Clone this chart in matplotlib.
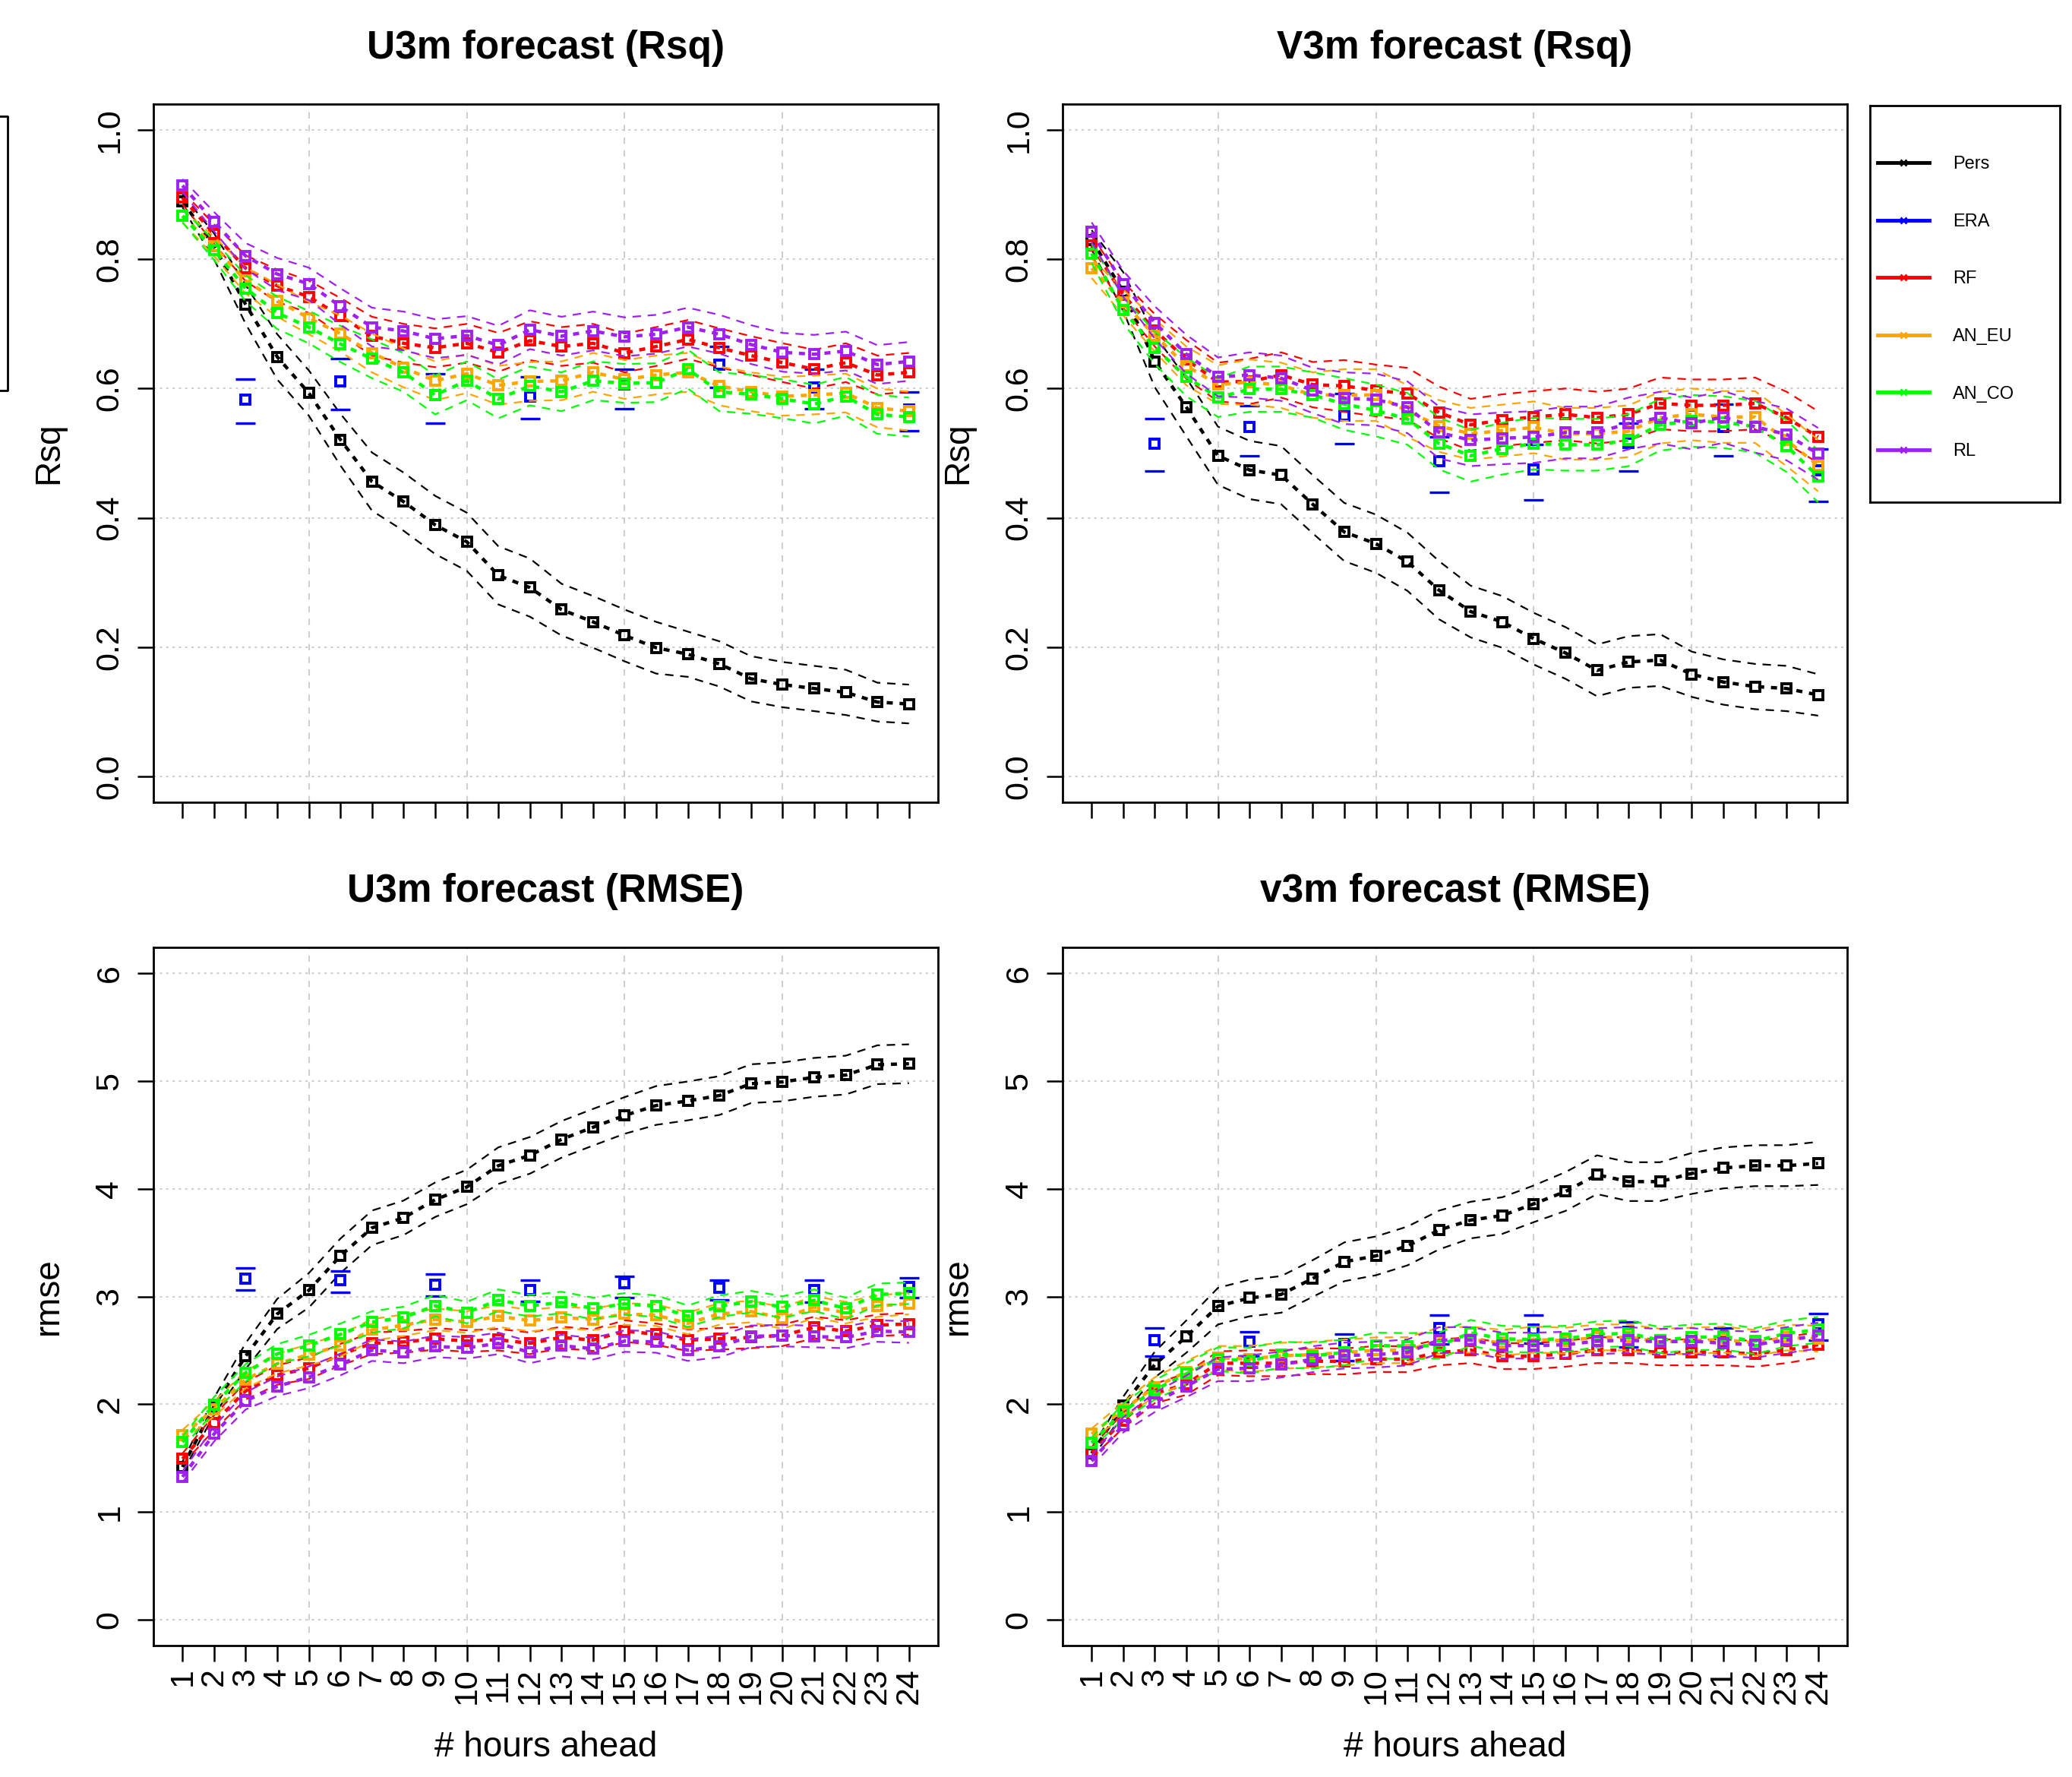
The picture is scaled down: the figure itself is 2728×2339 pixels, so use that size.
import matplotlib
matplotlib.use("Agg")
import matplotlib.pyplot as plt
import numpy as np
from matplotlib.lines import Line2D

plt.rcParams["font.family"] = ["Liberation Sans", "DejaVu Sans"]

HOURS = list(range(1, 25))
ERA_HOURS = [3, 6, 9, 12, 15, 18, 21, 24]
MODELS = ["Pers", "ERA", "RF", "AN_EU", "AN_CO", "RL"]
COLORS = ["black", "#0000ff", "#ff0000", "#ffa500", "#00ff00", "#a020f0"]

# ---- U3m, Rsq
U_RSQ_PERS = [0.89, 0.82, 0.73, 0.649, 0.593, 0.521, 0.456, 0.425, 0.389, 0.363, 0.311, 0.292,
              0.258, 0.239, 0.218, 0.199, 0.189, 0.174, 0.151, 0.142, 0.136, 0.130, 0.115, 0.112]
U_RSQ_PERS_CI = [0.01, 0.02, 0.03, 0.035, 0.035, 0.04, 0.045, 0.045, 0.045, 0.045, 0.045, 0.045,
                 0.04, 0.04, 0.04, 0.04, 0.035, 0.035, 0.035, 0.035, 0.035, 0.035, 0.03, 0.03]
U_RSQ_RF = [0.895, 0.839, 0.786, 0.759, 0.742, 0.712, 0.681, 0.670, 0.663, 0.670, 0.656, 0.674,
            0.665, 0.670, 0.655, 0.665, 0.676, 0.663, 0.651, 0.640, 0.630, 0.640, 0.621, 0.625]
U_RSQ_AN_EU = [0.867, 0.82, 0.767, 0.736, 0.709, 0.685, 0.655, 0.632, 0.612, 0.623, 0.605, 0.611,
               0.612, 0.625, 0.614, 0.621, 0.625, 0.604, 0.595, 0.588, 0.590, 0.593, 0.570, 0.565]
U_RSQ_AN_CO = [0.867, 0.814, 0.755, 0.717, 0.695, 0.669, 0.646, 0.625, 0.590, 0.612, 0.584, 0.604,
               0.595, 0.612, 0.608, 0.609, 0.630, 0.595, 0.591, 0.584, 0.576, 0.588, 0.560, 0.556]
U_RSQ_RL = [0.914, 0.858, 0.805, 0.777, 0.762, 0.727, 0.695, 0.689, 0.677, 0.682, 0.667, 0.691,
            0.681, 0.689, 0.680, 0.684, 0.695, 0.684, 0.668, 0.656, 0.653, 0.658, 0.637, 0.642]
U_RSQ_CI = [0.01, 0.015, 0.02, 0.025, 0.025, 0.028, 0.03, 0.03, 0.03, 0.03, 0.03, 0.03,
            0.03, 0.03, 0.03, 0.03, 0.03, 0.03, 0.03, 0.03, 0.03, 0.03, 0.03, 0.03]
U_RSQ_ERA = [0.583, 0.611, 0.590, 0.588, 0.606, 0.637, 0.602, 0.567]
U_RSQ_ERA_LO = [0.546, 0.567, 0.546, 0.553, 0.569, 0.602, 0.569, 0.535]
U_RSQ_ERA_HI = [0.614, 0.646, 0.623, 0.618, 0.630, 0.665, 0.630, 0.595]

# ---- V3m, Rsq
V_RSQ_PERS = [0.83, 0.75, 0.642, 0.571, 0.496, 0.474, 0.466, 0.421, 0.378, 0.360, 0.332, 0.288,
              0.255, 0.239, 0.213, 0.191, 0.164, 0.177, 0.180, 0.158, 0.146, 0.139, 0.136, 0.126]
V_RSQ_PERS_CI = [0.015, 0.03, 0.04, 0.045, 0.045, 0.045, 0.045, 0.045, 0.045, 0.045, 0.045, 0.045,
                 0.04, 0.04, 0.04, 0.04, 0.04, 0.04, 0.04, 0.035, 0.035, 0.035, 0.035, 0.032]
V_RSQ_RF = [0.821, 0.745, 0.69, 0.645, 0.61, 0.611, 0.621, 0.606, 0.604, 0.597, 0.592, 0.563,
            0.544, 0.551, 0.556, 0.560, 0.555, 0.560, 0.577, 0.574, 0.574, 0.577, 0.555, 0.525]
V_RSQ_AN_EU = [0.786, 0.733, 0.682, 0.635, 0.606, 0.61, 0.605, 0.59, 0.590, 0.590, 0.565, 0.542,
               0.53, 0.535, 0.54, 0.53, 0.53, 0.534, 0.555, 0.56, 0.556, 0.556, 0.52, 0.481]
V_RSQ_AN_CO = [0.809, 0.721, 0.663, 0.618, 0.586, 0.599, 0.599, 0.59, 0.576, 0.566, 0.553, 0.515,
               0.496, 0.507, 0.515, 0.513, 0.513, 0.52, 0.544, 0.55, 0.548, 0.541, 0.511, 0.464]
V_RSQ_RL = [0.842, 0.762, 0.702, 0.653, 0.618, 0.621, 0.616, 0.597, 0.585, 0.583, 0.571, 0.532,
            0.520, 0.523, 0.525, 0.532, 0.532, 0.546, 0.555, 0.546, 0.556, 0.541, 0.529, 0.499]
V_RSQ_CI = [0.015, 0.02, 0.025, 0.03, 0.03, 0.035, 0.035, 0.035, 0.04, 0.04, 0.04, 0.04,
            0.04, 0.04, 0.04, 0.04, 0.04, 0.04, 0.04, 0.04, 0.04, 0.04, 0.04, 0.04]
V_RSQ_ERA = [0.515, 0.540, 0.558, 0.488, 0.475, 0.516, 0.541, 0.473]
V_RSQ_ERA_LO = [0.472, 0.496, 0.515, 0.440, 0.428, 0.472, 0.496, 0.425]
V_RSQ_ERA_HI = [0.553, 0.574, 0.592, 0.525, 0.513, 0.546, 0.576, 0.506]

# ---- U3m, RMSE
U_RMSE_PERS = [1.417, 1.98, 2.447, 2.838, 3.057, 3.377, 3.637, 3.730, 3.898, 4.016, 4.214, 4.310,
               4.458, 4.571, 4.680, 4.773, 4.815, 4.865, 4.975, 4.992, 5.034, 5.055, 5.151, 5.160]
U_RMSE_PERS_CI = [0.05, 0.08, 0.12, 0.14, 0.16, 0.16, 0.16, 0.16, 0.16, 0.16, 0.17, 0.17,
                  0.17, 0.17, 0.17, 0.18, 0.18, 0.18, 0.18, 0.18, 0.18, 0.18, 0.18, 0.18]
U_RMSE_RF = [1.493, 1.829, 2.124, 2.271, 2.334, 2.46, 2.565, 2.578, 2.607, 2.586, 2.599, 2.565,
             2.620, 2.595, 2.679, 2.649, 2.595, 2.607, 2.62, 2.64, 2.712, 2.679, 2.733, 2.746]
U_RMSE_AN_EU = [1.711, 1.955, 2.229, 2.376, 2.46, 2.544, 2.69, 2.733, 2.788, 2.763, 2.817, 2.776,
                2.805, 2.788, 2.838, 2.826, 2.75, 2.838, 2.86, 2.8, 2.902, 2.85, 2.91, 2.935]
U_RMSE_AN_CO = [1.648, 1.997, 2.292, 2.468, 2.544, 2.649, 2.763, 2.805, 2.914, 2.851, 2.965, 2.914,
                2.944, 2.889, 2.931, 2.910, 2.817, 2.91, 2.952, 2.902, 2.965, 2.889, 3.019, 3.03]
U_RMSE_RL = [1.325, 1.724, 2.031, 2.166, 2.25, 2.368, 2.502, 2.481, 2.536, 2.523, 2.565, 2.481,
             2.544, 2.515, 2.586, 2.578, 2.502, 2.536, 2.63, 2.637, 2.628, 2.62, 2.679, 2.67]
U_RMSE_CI = [0.05, 0.07, 0.08, 0.09, 0.1, 0.1, 0.1, 0.1, 0.1, 0.1, 0.1, 0.1,
             0.1, 0.1, 0.1, 0.1, 0.1, 0.1, 0.1, 0.1, 0.1, 0.1, 0.1, 0.1]
U_RMSE_ERA = [3.166, 3.154, 3.112, 3.057, 3.12, 3.078, 3.057, 3.09]
U_RMSE_ERA_LO = [3.057, 3.04, 3.007, 2.952, 2.986, 2.965, 2.944, 2.986]
U_RMSE_ERA_HI = [3.267, 3.238, 3.209, 3.154, 3.188, 3.154, 3.154, 3.175]

# ---- V3m, RMSE
V_RMSE_PERS = [1.543, 1.99, 2.368, 2.628, 2.910, 2.986, 3.019, 3.167, 3.322, 3.377, 3.469, 3.617,
               3.709, 3.751, 3.860, 3.974, 4.130, 4.066, 4.066, 4.142, 4.193, 4.214, 4.214, 4.235]
V_RMSE_PERS_CI = [0.05, 0.08, 0.12, 0.15, 0.17, 0.17, 0.17, 0.17, 0.18, 0.18, 0.18, 0.18,
                  0.17, 0.17, 0.17, 0.18, 0.18, 0.18, 0.18, 0.19, 0.19, 0.19, 0.19, 0.2]
V_RMSE_RF = [1.55, 1.85, 2.1, 2.187, 2.38, 2.38, 2.38, 2.40, 2.397, 2.42, 2.418, 2.481,
             2.502, 2.447, 2.447, 2.468, 2.502, 2.502, 2.481, 2.481, 2.481, 2.468, 2.502, 2.552]
V_RMSE_AN_EU = [1.724, 1.95, 2.16, 2.3, 2.43, 2.42, 2.45, 2.46, 2.48, 2.5, 2.502, 2.59,
                2.6, 2.57, 2.6, 2.59, 2.62, 2.62, 2.58, 2.59, 2.6, 2.57, 2.62, 2.607]
V_RMSE_AN_CO = [1.64, 1.934, 2.132, 2.283, 2.418, 2.405, 2.46, 2.45, 2.481, 2.544, 2.54, 2.544,
                2.662, 2.607, 2.6, 2.607, 2.649, 2.658, 2.595, 2.62, 2.628, 2.586, 2.658, 2.69]
V_RMSE_RL = [1.472, 1.808, 2.018, 2.166, 2.325, 2.334, 2.368, 2.418, 2.452, 2.46, 2.481, 2.595,
             2.595, 2.544, 2.544, 2.552, 2.586, 2.595, 2.578, 2.586, 2.565, 2.552, 2.595, 2.637]
V_RMSE_CI = [0.05, 0.07, 0.09, 0.1, 0.11, 0.12, 0.12, 0.12, 0.12, 0.12, 0.12, 0.12,
             0.12, 0.12, 0.12, 0.12, 0.12, 0.12, 0.12, 0.12, 0.12, 0.12, 0.12, 0.12]
V_RMSE_ERA = [2.595, 2.578, 2.557, 2.704, 2.691, 2.670, 2.595, 2.746]
V_RMSE_ERA_LO = [2.447, 2.447, 2.405, 2.557, 2.565, 2.532, 2.447, 2.595]
V_RMSE_ERA_HI = [2.704, 2.67, 2.649, 2.826, 2.826, 2.763, 2.704, 2.838]

RSQ_TICKS = [0.0, 0.2, 0.4, 0.6, 0.8, 1.0]
RMSE_TICKS = [0, 1, 2, 3, 4, 5, 6]

W, H = 2728, 2339
TICK_FS = 31
LABEL_FS = 33
TITLE_FS = 37


def mean_with_ci(ax, y, ci, color):
    y = np.asarray(y)
    ci = np.asarray(ci)
    ax.plot(HOURS, y + ci, color=color, lw=1.6, ls=(0, (5, 4)))
    ax.plot(HOURS, y - ci, color=color, lw=1.6, ls=(0, (5, 4)))
    ax.plot(HOURS, y, color=color, lw=3.2, ls=(0, (1.8, 2)),
            marker="s", ms=8, mfc="none", mec=color, mew=2.8)


def draw_panel(ax, title, ylabel, yticks, ylim, pers, pers_ci, era, era_lo, era_hi,
               models, ci, show_xlabels):
    ax.set_xlim(0.08, 24.92)
    ax.set_ylim(*ylim)

    # grid like R's grid(): dotted horizontals, dashed verticals
    for yt in yticks:
        ax.axhline(yt, color="#cfcfcf", lw=1.5, ls=(0, (1.5, 2.5)), zorder=0)
    for xt in [5, 10, 15, 20]:
        ax.axvline(xt, color="#cfcfcf", lw=1.5, ls=(0, (4, 4)), zorder=0)

    mean_with_ci(ax, pers, pers_ci, COLORS[0])

    ax.plot(ERA_HOURS, era, ls="none", marker="s", ms=8, mfc="none", mec=COLORS[1], mew=2.8)
    ax.plot(ERA_HOURS, era_lo, ls="none", marker="_", ms=19, mew=2.4, color=COLORS[1])
    ax.plot(ERA_HOURS, era_hi, ls="none", marker="_", ms=19, mew=2.4, color=COLORS[1])

    for vals, color in zip(models, COLORS[2:]):
        mean_with_ci(ax, vals, ci, color)

    ax.set_xticks(HOURS)
    ax.set_yticks(yticks)
    if yticks[-1] < 2:
        ax.set_yticklabels([f"{v:.1f}" for v in yticks])
    else:
        ax.set_yticklabels([str(v) for v in yticks])
    ax.tick_params(axis="both", direction="out", length=15, width=1.8, labelsize=TICK_FS)
    ax.tick_params(axis="y", pad=12)
    for lab in ax.get_yticklabels():
        lab.set_rotation(90)
        lab.set_va("center")
    if show_xlabels:
        ax.set_xticklabels([str(h) for h in HOURS], rotation=90)
        ax.tick_params(axis="x", pad=6)
        ax.text(0.5, -134 / 920, "# hours ahead", transform=ax.transAxes,
                ha="center", va="center", fontsize=LABEL_FS)
    else:
        ax.tick_params(axis="x", labelbottom=False)

    for sp in ax.spines.values():
        sp.set_linewidth(2.0)

    ax.text(-138 / 1033, 0.5, ylabel, transform=ax.transAxes, rotation=90,
            ha="center", va="center", fontsize=LABEL_FS)
    ax.text(0.5, 1 + 73 / 919, title, transform=ax.transAxes, ha="center", va="center",
            fontsize=TITLE_FS, fontweight="bold")


fig = plt.figure(figsize=(W / 100, H / 100), dpi=100)

left_l, left_r = 202 / W, 1399 / W
width = 1033 / W
top_b = 1 - 1056 / H
bot_b = 1 - 2166 / H
height = 919 / H

ax_ur = fig.add_axes([left_l, top_b, width, height])
ax_vr = fig.add_axes([left_r, top_b, width, height])
ax_ue = fig.add_axes([left_l, bot_b, width, height])
ax_ve = fig.add_axes([left_r, bot_b, width, height])

draw_panel(ax_ur, "U3m forecast (Rsq)", "Rsq", RSQ_TICKS, (-0.04, 1.04),
           U_RSQ_PERS, U_RSQ_PERS_CI, U_RSQ_ERA, U_RSQ_ERA_LO, U_RSQ_ERA_HI,
           [U_RSQ_RF, U_RSQ_AN_EU, U_RSQ_AN_CO, U_RSQ_RL], U_RSQ_CI, False)
draw_panel(ax_vr, "V3m forecast (Rsq)", "Rsq", RSQ_TICKS, (-0.04, 1.04),
           V_RSQ_PERS, V_RSQ_PERS_CI, V_RSQ_ERA, V_RSQ_ERA_LO, V_RSQ_ERA_HI,
           [V_RSQ_RF, V_RSQ_AN_EU, V_RSQ_AN_CO, V_RSQ_RL], V_RSQ_CI, False)
draw_panel(ax_ue, "U3m forecast (RMSE)", "rmse", RMSE_TICKS, (-0.24, 6.24),
           U_RMSE_PERS, U_RMSE_PERS_CI, U_RMSE_ERA, U_RMSE_ERA_LO, U_RMSE_ERA_HI,
           [U_RMSE_RF, U_RMSE_AN_EU, U_RMSE_AN_CO, U_RMSE_RL], U_RMSE_CI, True)
draw_panel(ax_ve, "v3m forecast (RMSE)", "rmse", RMSE_TICKS, (-0.24, 6.24),
           V_RMSE_PERS, V_RMSE_PERS_CI, V_RMSE_ERA, V_RMSE_ERA_LO, V_RMSE_ERA_HI,
           [V_RMSE_RF, V_RMSE_AN_EU, V_RMSE_AN_CO, V_RMSE_RL], V_RMSE_CI, True)

# legend box on the right
leg_ax = fig.add_axes([2462 / W, 1 - 661 / H, 250 / W, 522 / H])
leg_ax.set_xticks([])
leg_ax.set_yticks([])
for sp in leg_ax.spines.values():
    sp.set_linewidth(2.0)
handles = [Line2D([], [], color=c, lw=3.5, marker="x", ms=6, mew=2) for c in COLORS]
leg_ax.legend(handles, MODELS, loc="center left", bbox_to_anchor=(10 / 250, 0.49),
              frameon=False, borderaxespad=0, borderpad=0, handlelength=2.9,
              handletextpad=1.3, labelspacing=2.27, fontsize=17)

# cropped edge of a neighbouring legend box at the far left
x_edge = 10 / W
y_top, y_bot = 1 - 153 / H, 1 - 514 / H
fig.add_artist(Line2D([0, x_edge, x_edge, 0], [y_top, y_top, y_bot, y_bot],
                      color="black", lw=2.0, transform=fig.transFigure))

fig.savefig("out.png", dpi=100, facecolor="white")
